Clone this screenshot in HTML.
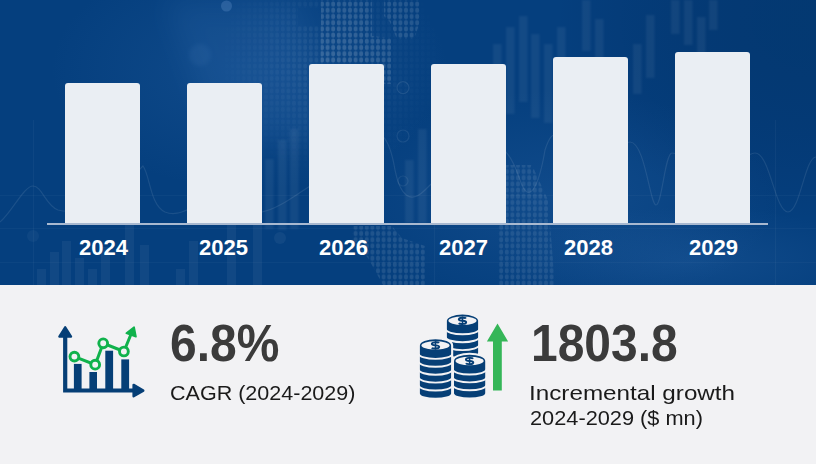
<!DOCTYPE html>
<html><head><meta charset="utf-8">
<style>
html,body{margin:0;padding:0;}
body{width:816px;height:464px;overflow:hidden;position:relative;background:#f2f2f4;font-family:"Liberation Sans",sans-serif;}
.top{position:absolute;left:0;top:0;width:816px;height:285px;background:#0a3e7d;overflow:hidden;}
.bar{position:absolute;width:75px;background:#eaeef3;border-radius:3px 3px 0 0;}
.base{position:absolute;left:47px;top:223px;width:721px;height:2px;background:#a9b9d0;}
.yr{position:absolute;top:236px;color:#fff;font-weight:bold;font-size:22px;line-height:24px;}
.big{position:absolute;color:#3b3b3b;font-weight:bold;font-size:51px;line-height:51px;transform-origin:0 0;transform:scaleX(0.94);}
.lab{position:absolute;color:#1a1a1a;font-size:21px;line-height:25px;transform-origin:0 0;white-space:nowrap;}
</style></head><body>
<div class="top"><!--BG--><svg style="position:absolute;left:0;top:0" width="816" height="285" viewBox="0 0 816 285"><defs>
<pattern id="dots" x="0" y="1" width="5.6" height="6.2" patternUnits="userSpaceOnUse"><ellipse cx="2.8" cy="3.1" rx="2.0" ry="2.7" fill="#fff"/></pattern>
<radialGradient id="glow1" cx="0.5" cy="0.5" r="0.5"><stop offset="0" stop-color="#4d8ad0" stop-opacity="0.16"/><stop offset="1" stop-color="#4d8ad0" stop-opacity="0"/></radialGradient>
<radialGradient id="dark1" cx="0.5" cy="0.5" r="0.5"><stop offset="0" stop-color="#00305f" stop-opacity="0.4"/><stop offset="1" stop-color="#001a44" stop-opacity="0"/></radialGradient>
<linearGradient id="botband" x1="0" y1="0" x2="0" y2="1"><stop offset="0" stop-color="#fff" stop-opacity="0"/><stop offset="1" stop-color="#fff" stop-opacity="0.03"/></linearGradient>
<filter id="blur2" x="-20%" y="-20%" width="140%" height="140%"><feGaussianBlur stdDeviation="0.9"/></filter>
<filter id="blurd" x="-5%" y="-5%" width="110%" height="110%"><feGaussianBlur stdDeviation="0.6"/></filter>
<filter id="blur3" x="-50%" y="-50%" width="200%" height="200%"><feGaussianBlur stdDeviation="2"/></filter>
<filter id="blur12" x="-50%" y="-50%" width="200%" height="200%"><feGaussianBlur stdDeviation="14"/></filter>
<radialGradient id="mg" cx="0.5" cy="0.5" r="0.5"><stop offset="0" stop-color="#fff" stop-opacity="1"/><stop offset="1" stop-color="#fff" stop-opacity="0"/></radialGradient>
<mask id="m1" maskUnits="userSpaceOnUse" x="0" y="0" width="816" height="285"><ellipse cx="330" cy="60" rx="115" ry="120" fill="url(#mg)"/><rect x="298" y="8" width="23" height="18" fill="#000"/></mask>
</defs>
<rect width="816" height="285" fill="#053f7e"/>
<ellipse cx="250" cy="70" rx="200" ry="120" fill="url(#glow1)"/>
<path d="M165,0 L300,0 L330,140 L215,140 Z" fill="#5a93d6" opacity="0.10" filter="url(#blur12)"/>
<circle cx="226.5" cy="6" r="5.5" fill="#7aa6dc" opacity="0.25" filter="url(#blurd)"/>
<circle cx="200" cy="55" r="11" fill="#7aa6dc" opacity="0.07" filter="url(#blur3)"/>
<ellipse cx="560" cy="200" rx="220" ry="110" fill="url(#glow1)"/>
<ellipse cx="816" cy="20" rx="260" ry="200" fill="url(#dark1)"/>
<rect x="0" y="0" width="816" height="285" filter="url(#blurd)" fill="url(#dots)" opacity="0.07" mask="url(#m1)"/>
<path d="M321,0 L372,0 L372,36 L391,38 L391,84 L372,84 L368,63 L321,63 Z" filter="url(#blurd)" fill="url(#dots)" opacity="0.115"/>
<path d="M384,0 L420,0 L420,22 L414,39 L397,39 L390,22 L384,16 Z" filter="url(#blurd)" fill="url(#dots)" opacity="0.11"/>
<path d="M352,226 L392,226 L402,238 L425,246 L425,285 L383,285 L368,258 L352,240 Z" filter="url(#blurd)" fill="url(#dots)" opacity="0.10"/>
<path d="M500,165 L532,165 L548,200 L555,285 L498,285 L498,200 Z" filter="url(#blurd)" fill="url(#dots)" opacity="0.09"/>
<rect x="493" y="44" width="8.5" height="60" fill="#fff" opacity="0.055" filter="url(#blur2)"/>
<rect x="506" y="27" width="8.5" height="87" fill="#fff" opacity="0.055" filter="url(#blur2)"/>
<rect x="519" y="16" width="8.5" height="86" fill="#fff" opacity="0.055" filter="url(#blur2)"/>
<rect x="531" y="34" width="8.5" height="84" fill="#fff" opacity="0.055" filter="url(#blur2)"/>
<rect x="544" y="44" width="8.5" height="79" fill="#fff" opacity="0.055" filter="url(#blur2)"/>
<rect x="557" y="27" width="8.5" height="60" fill="#fff" opacity="0.055" filter="url(#blur2)"/>
<rect x="582" y="0" width="8.5" height="51" fill="#fff" opacity="0.055" filter="url(#blur2)"/>
<rect x="595" y="19" width="8.5" height="70" fill="#fff" opacity="0.055" filter="url(#blur2)"/>
<rect x="633" y="44" width="8.5" height="50" fill="#fff" opacity="0.055" filter="url(#blur2)"/>
<rect x="646" y="15" width="8.5" height="63" fill="#fff" opacity="0.055" filter="url(#blur2)"/>
<rect x="671" y="0" width="8.5" height="34" fill="#fff" opacity="0.055" filter="url(#blur2)"/>
<rect x="684" y="0" width="8.5" height="45" fill="#fff" opacity="0.055" filter="url(#blur2)"/>
<rect x="697" y="17" width="8.5" height="40" fill="#fff" opacity="0.055" filter="url(#blur2)"/>
<rect x="709" y="0" width="8.5" height="30" fill="#fff" opacity="0.055" filter="url(#blur2)"/>
<rect x="265" y="159" width="8.5" height="70" fill="#fff" opacity="0.055" filter="url(#blur2)"/>
<rect x="278" y="140" width="8.5" height="90" fill="#fff" opacity="0.055" filter="url(#blur2)"/>
<rect x="290" y="129" width="8.5" height="100" fill="#fff" opacity="0.055" filter="url(#blur2)"/>
<rect x="405" y="160" width="8.5" height="63" fill="#fff" opacity="0.055" filter="url(#blur2)"/>
<rect x="418" y="129" width="8.5" height="94" fill="#fff" opacity="0.055" filter="url(#blur2)"/>
<rect x="480" y="100" width="8.5" height="60" fill="#fff" opacity="0.055" filter="url(#blur2)"/>
<rect x="37" y="269" width="9" height="16" fill="#fff" opacity="0.05"/>
<rect x="50" y="252" width="9" height="33" fill="#fff" opacity="0.05"/>
<rect x="62" y="241" width="9" height="44" fill="#fff" opacity="0.05"/>
<rect x="75" y="258" width="9" height="27" fill="#fff" opacity="0.05"/>
<rect x="88" y="269" width="9" height="16" fill="#fff" opacity="0.05"/>
<rect x="101" y="247" width="9" height="38" fill="#fff" opacity="0.05"/>
<rect x="125" y="223" width="9" height="62" fill="#fff" opacity="0.05"/>
<rect x="140" y="245" width="9" height="40" fill="#fff" opacity="0.05"/>
<rect x="176" y="269" width="9" height="16" fill="#fff" opacity="0.05"/>
<rect x="189" y="241" width="9" height="44" fill="#fff" opacity="0.05"/>
<rect x="227" y="200" width="9" height="85" fill="#fff" opacity="0.05"/>
<rect x="253" y="180" width="9" height="105" fill="#fff" opacity="0.05"/>
<path d="M0,222 C12,212 24,186 33,186 C42,186 46,206 58,210 C80,216 110,200 143,166 C150,175 150,205 165,212 C180,218 190,205 205,205 C225,205 240,215 262,212 C280,208 295,195 312,185 C330,175 350,170 370,140 C380,125 390,140 395,170 C400,195 410,205 425,190 C445,170 460,160 480,150 C500,140 510,150 520,180 C530,210 540,180 545,150 C555,120 560,140 570,170 C580,200 585,210 600,200 C612,190 618,142 630,142 C645,142 650,205 656,205 C662,205 665,153 672,153 C690,153 700,195 712,195 C725,195 740,153 755,153 C770,153 775,212 788,212 C800,212 805,157 816,157" fill="none" stroke="#fff" stroke-width="1.2" opacity="0.09"/>
<circle cx="33" cy="236" r="6" fill="#fff" opacity="0.04"/>
<circle cx="280" cy="238" r="6" fill="#fff" opacity="0.05"/>
<ellipse cx="690" cy="262" rx="190" ry="55" fill="url(#glow1)"/>
<circle cx="403" cy="87.7" r="6" fill="none" stroke="#fff" stroke-width="1.2" opacity="0.09"/>
<circle cx="403" cy="136" r="6" fill="none" stroke="#fff" stroke-width="1.2" opacity="0.08"/>
<circle cx="403" cy="181" r="5" fill="none" stroke="#fff" stroke-width="1.2" opacity="0.07"/>
<rect x="0" y="195" width="816" height="1" fill="#fff" opacity="0.03"/>
<rect x="0" y="228" width="816" height="1" fill="#fff" opacity="0.03"/>
<rect x="0" y="262" width="816" height="1" fill="#fff" opacity="0.03"/>
<rect x="33" y="120" width="1" height="165" fill="#fff" opacity="0.04"/>
<rect x="434" y="120" width="1" height="165" fill="#fff" opacity="0.04"/>
<rect x="775" y="120" width="1" height="165" fill="#fff" opacity="0.04"/></svg><!--/BG--></div>
<div class="bar" style="left:65px;top:83px;height:140px"></div>
<div class="bar" style="left:187px;top:83px;height:140px"></div>
<div class="bar" style="left:309px;top:64px;height:159px"></div>
<div class="bar" style="left:431px;top:64px;height:159px"></div>
<div class="bar" style="left:553px;top:57px;height:166px"></div>
<div class="bar" style="left:675px;top:52px;height:171px"></div>
<div class="base"></div>
<div class="yr" style="left:79px">2024</div>
<div class="yr" style="left:199px">2025</div>
<div class="yr" style="left:319px">2026</div>
<div class="yr" style="left:439px">2027</div>
<div class="yr" style="left:564px">2028</div>
<div class="yr" style="left:689px">2029</div>

<div class="big" style="left:170px;top:318px">6.8%</div>
<div class="lab" style="left:170px;top:380px;transform:scaleX(1.025)">CAGR (2024-2029)</div>
<div class="big" style="left:531px;top:318px">1803.8</div>
<div class="lab" style="left:529px;top:380px;transform:scaleX(1.154)">Incremental growth</div>
<div class="lab" style="left:530px;top:405px;transform:scaleX(1.036)">2024-2029 ($ mn)</div>
<!--ICONS--><svg style="position:absolute;left:0;top:0" width="816" height="464" viewBox="0 0 816 464">
<rect x="73.9" y="363.9" width="7.7" height="26" fill="#063f76"/>
<rect x="89.4" y="372" width="7.6" height="18" fill="#063f76"/>
<rect x="105.3" y="350.7" width="7.8" height="39" fill="#063f76"/>
<rect x="121.3" y="359.4" width="7.8" height="30" fill="#063f76"/>
<path d="M65.2,334 L65.2,390.5 L136,390.5" fill="none" stroke="#063f76" stroke-width="4.2"/>
<polygon points="65.2,327.3 59.4,336.6 71.0,336.6" fill="#063f76" stroke="#063f76" stroke-width="2.4" stroke-linejoin="round"/>
<polygon points="143.3,390.6 133.6,384.9 133.6,396.3" fill="#063f76" stroke="#063f76" stroke-width="2.4" stroke-linejoin="round"/>
<polyline points="74.4,356.6 95.2,364.7 103.2,343.3 123.9,351.5 131.5,333" fill="none" stroke="#10b24c" stroke-width="3"/>
<polygon points="134.1,327.3 135.9,336.6 126.4,333.2" fill="#10b24c" stroke="#10b24c" stroke-width="1.8" stroke-linejoin="round"/>
<circle cx="74.4" cy="356.6" r="4.4" fill="#f2f2f4" stroke="#10b24c" stroke-width="2.9"/>
<circle cx="95.2" cy="364.7" r="4.4" fill="#f2f2f4" stroke="#10b24c" stroke-width="2.9"/>
<circle cx="103.2" cy="343.3" r="4.4" fill="#f2f2f4" stroke="#10b24c" stroke-width="2.9"/>
<circle cx="123.9" cy="351.5" r="4.4" fill="#f2f2f4" stroke="#10b24c" stroke-width="2.9"/>

<path d="M446.90,320.80 L446.90,353.00 A15.6,4.3 0 0 0 478.10,353.00 L478.10,320.80 A15.6,6.2 0 0 0 446.90,320.80 Z" fill="#063f76"/>
<ellipse cx="462.5" cy="320.8" rx="14.1" ry="4.2" fill="#f2f2f4"/>
<path d="M445.90,329.30 A16.6,5.0 0 0 0 479.10,329.30" fill="none" stroke="#f2f2f4" stroke-width="1.9"/>
<path d="M445.90,337.20 A16.6,5.0 0 0 0 479.10,337.20" fill="none" stroke="#f2f2f4" stroke-width="1.9"/>
<path d="M445.90,345.10 A16.6,5.0 0 0 0 479.10,345.10" fill="none" stroke="#f2f2f4" stroke-width="1.9"/>
<g transform="translate(462.50,320.80)" fill="none" stroke="#063f76"><path d="M3.5,-2.3 C2.8,-3.4 -3.7,-3.6 -3.7,-1.3 C-3.7,0.5 3.7,-0.5 3.7,1.4 C3.7,3.6 -2.9,3.5 -3.7,2.3" stroke-width="1.9"/><path d="M0,-4.3 L0,4.3" stroke-width="1.5"/></g>
<path d="M419.90,345.40 L419.90,393.40 A15.6,4.3 0 0 0 451.10,393.40 L451.10,345.40 A15.6,6.2 0 0 0 419.90,345.40 Z" fill="#f2f2f4" stroke="#f2f2f4" stroke-width="4.2" stroke-linejoin="round"/>
<path d="M419.90,345.40 L419.90,393.40 A15.6,4.3 0 0 0 451.10,393.40 L451.10,345.40 A15.6,6.2 0 0 0 419.90,345.40 Z" fill="#063f76"/>
<ellipse cx="435.5" cy="345.4" rx="14.1" ry="4.2" fill="#f2f2f4"/>
<path d="M418.90,353.90 A16.6,5.0 0 0 0 452.10,353.90" fill="none" stroke="#f2f2f4" stroke-width="1.9"/>
<path d="M418.90,361.80 A16.6,5.0 0 0 0 452.10,361.80" fill="none" stroke="#f2f2f4" stroke-width="1.9"/>
<path d="M418.90,369.70 A16.6,5.0 0 0 0 452.10,369.70" fill="none" stroke="#f2f2f4" stroke-width="1.9"/>
<path d="M418.90,377.60 A16.6,5.0 0 0 0 452.10,377.60" fill="none" stroke="#f2f2f4" stroke-width="1.9"/>
<path d="M418.90,385.50 A16.6,5.0 0 0 0 452.10,385.50" fill="none" stroke="#f2f2f4" stroke-width="1.9"/>
<g transform="translate(435.50,345.40)" fill="none" stroke="#063f76"><path d="M3.5,-2.3 C2.8,-3.4 -3.7,-3.6 -3.7,-1.3 C-3.7,0.5 3.7,-0.5 3.7,1.4 C3.7,3.6 -2.9,3.5 -3.7,2.3" stroke-width="1.9"/><path d="M0,-4.3 L0,4.3" stroke-width="1.5"/></g>
<path d="M454.00,361.00 L454.00,393.20 A15.6,4.3 0 0 0 485.20,393.20 L485.20,361.00 A15.6,6.2 0 0 0 454.00,361.00 Z" fill="#f2f2f4" stroke="#f2f2f4" stroke-width="4.2" stroke-linejoin="round"/>
<path d="M454.00,361.00 L454.00,393.20 A15.6,4.3 0 0 0 485.20,393.20 L485.20,361.00 A15.6,6.2 0 0 0 454.00,361.00 Z" fill="#063f76"/>
<ellipse cx="469.6" cy="361.0" rx="14.1" ry="4.2" fill="#f2f2f4"/>
<path d="M453.00,369.50 A16.6,5.0 0 0 0 486.20,369.50" fill="none" stroke="#f2f2f4" stroke-width="1.9"/>
<path d="M453.00,377.40 A16.6,5.0 0 0 0 486.20,377.40" fill="none" stroke="#f2f2f4" stroke-width="1.9"/>
<path d="M453.00,385.30 A16.6,5.0 0 0 0 486.20,385.30" fill="none" stroke="#f2f2f4" stroke-width="1.9"/>
<g transform="translate(469.60,361.00)" fill="none" stroke="#063f76"><path d="M3.5,-2.3 C2.8,-3.4 -3.7,-3.6 -3.7,-1.3 C-3.7,0.5 3.7,-0.5 3.7,1.4 C3.7,3.6 -2.9,3.5 -3.7,2.3" stroke-width="1.9"/><path d="M0,-4.3 L0,4.3" stroke-width="1.5"/></g>
<polygon points="497.5,323.4 508.1,341.4 501.8,341.4 501.8,390.4 493,390.4 493,341.4 486.9,341.4" fill="#35b658"/>
</svg><!--/ICONS-->
</body></html>
